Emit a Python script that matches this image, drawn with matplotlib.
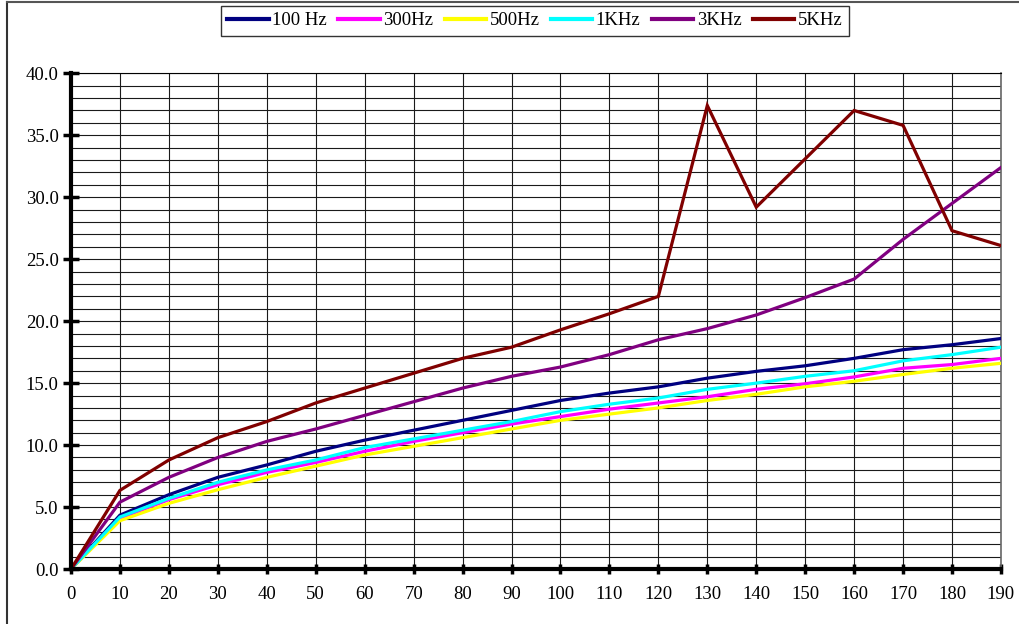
import matplotlib.pyplot as plt
from matplotlib.lines import Line2D

x = [0, 10, 20, 30, 40, 50, 60, 70, 80, 90, 100, 110, 120, 130, 140, 150, 160, 170, 180, 190]

hz100 = [0, 4.35, 6.0, 7.4, 8.4, 9.5, 10.4, 11.2, 12.0, 12.8, 13.6, 14.2, 14.7, 15.4, 15.95, 16.4, 17.0, 17.7, 18.1, 18.6]
hz300 = [0, 4.1, 5.6, 6.8, 7.8, 8.6, 9.5, 10.3, 11.0, 11.7, 12.3, 12.9, 13.4, 13.9, 14.5, 14.95, 15.5, 16.2, 16.5, 17.0]
hz500 = [0, 3.9, 5.3, 6.4, 7.4, 8.3, 9.2, 9.9, 10.6, 11.3, 12.0, 12.5, 13.0, 13.6, 14.1, 14.7, 15.15, 15.7, 16.2, 16.6]
khz1 = [0, 4.2, 5.7, 7.0, 8.0, 8.8, 9.8, 10.5, 11.2, 11.9, 12.7, 13.3, 13.8, 14.5, 15.0, 15.55, 16.0, 16.8, 17.3, 17.9]
khz3 = [0, 5.4, 7.4, 9.0, 10.3, 11.3, 12.4, 13.5, 14.6, 15.55, 16.3, 17.3, 18.5, 19.4, 20.5, 21.9, 23.4, 26.6, 29.5, 32.4]
khz5 = [0, 6.35, 8.8, 10.6, 11.9, 13.4, 14.6, 15.8, 17.0, 17.9, 19.3, 20.6, 22.0, 37.4, 29.2, 33.1, 37.0, 35.8, 27.3, 26.1]

labels = ['100 Hz', '300Hz', '500Hz', '1KHz', '3KHz', '5KHz']
colors = ['#000080', '#FF00FF', '#FFFF00', '#00FFFF', '#800080', '#800000']
series = [hz100, hz300, hz500, khz1, khz3, khz5]

plt.rcParams['font.family'] = ['Liberation Serif', 'DejaVu Serif']

fig = plt.figure(figsize=(10.19, 6.24), dpi=100)
ax = fig.add_axes([0.0697, 0.0881, 0.9126, 0.7944])

for s, lab, c in zip(series, labels, colors):
    ax.plot(x, s, color=c, lw=2.3, label=lab, solid_joinstyle='miter', zorder=3)

ax.set_xlim(0, 190)
ax.set_ylim(0, 40)
ax.set_xticks(range(0, 191, 10))
ax.set_yticks(range(0, 41, 5))
ax.set_yticks(range(0, 41, 1), minor=True)
ax.set_yticklabels([f'{v:.1f}' for v in range(0, 41, 5)])

ax.grid(True, which='both', axis='y', color='#1a1a1a', lw=0.8, zorder=1)
ax.grid(True, which='major', axis='x', color='#1a1a1a', lw=0.8, zorder=1)
ax.tick_params(axis='y', which='major', direction='inout', length=12, width=2.5, labelsize=13.5, pad=3)
ax.tick_params(axis='y', which='minor', length=0)
ax.tick_params(axis='x', direction='inout', length=7, width=2.5, labelsize=13.5, pad=9)

for side in ['left', 'bottom']:
    ax.spines[side].set_linewidth(3)
    ax.spines[side].set_zorder(4)
ax.spines['top'].set_linewidth(0.8)
ax.spines['right'].set_linewidth(1.2)
ax.spines['right'].set_color('#666666')

handles = [Line2D([], [], color=c, lw=3) for c in colors]
leg = fig.legend(handles, labels, loc='upper center', bbox_to_anchor=(0.525, 0.991), ncol=6,
                 fontsize=13.5, frameon=True, fancybox=False, edgecolor='black', handlelength=2.2,
                 handletextpad=0.2, columnspacing=0.6, borderpad=0.35, borderaxespad=0)
leg.get_frame().set_linewidth(1.0)

# outer chart frame (left and top edges visible)
fig.add_artist(Line2D([7 / 1019, 7 / 1019], [0, 1 - 2 / 624], transform=fig.transFigure, color='#333333', lw=1.5))
fig.add_artist(Line2D([7 / 1019, 1], [1 - 2 / 624, 1 - 2 / 624], transform=fig.transFigure, color='#555555', lw=1.5))

fig.savefig('out.png', dpi=100)
